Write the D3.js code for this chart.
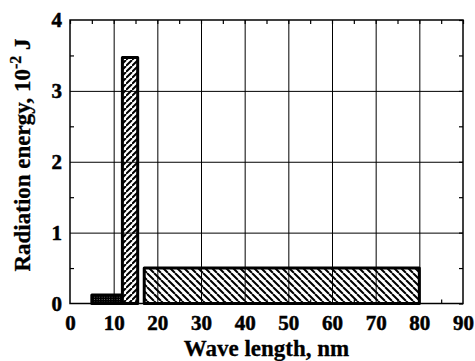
<!DOCTYPE html>
<html>
<head>
<meta charset="utf-8">
<script src="https://cdn.jsdelivr.net/npm/d3@7"></script>
<style>
  body { margin: 0; background: #fff; }
</style>
</head>
<body>
<div id="chart"></div>
<script>
// bars: wavelength band [start, end] in nm and energy in 10^-2 J
var bandStart = [5, 12, 17];
var bandEnd = [13.5, 15.5, 80];
var bandEnergy = [0.12, 3.47, 0.5];
var bandHatch = ["dense", "fwd", "back"];

var xTicks = [0, 10, 20, 30, 40, 50, 60, 70, 80, 90];
var xMinor = [5, 15, 25, 35, 45, 55, 65, 75, 85];
var yTicks = [0, 1, 2, 3, 4];
var yMinor = [0.5, 1.5, 2.5, 3.5];

var width = 475, height = 361;
var margin = {top: 20, right: 12, bottom: 57.5, left: 70};
var serif = "'Liberation Serif', 'Times New Roman', serif";

var x = d3.scaleLinear().domain([0, 90]).range([margin.left, width - margin.right]);
var y = d3.scaleLinear().domain([0, 4]).range([height - margin.bottom, margin.top]);

var svg = d3.select("#chart").append("svg")
  .attr("width", width)
  .attr("height", height);

// hatch patterns
var defs = svg.append("defs");
function hatch(id, size, sw, dir) {
  var p = defs.append("pattern")
    .attr("id", id)
    .attr("width", size)
    .attr("height", size)
    .attr("patternUnits", "userSpaceOnUse");
  p.append("rect").attr("width", size).attr("height", size).attr("fill", "#fff");
  var d = dir > 0
    ? "M0," + size + "L" + size + ",0M" + (-size) + "," + size + "L0,0M" + size + "," + (2 * size) + "L" + (2 * size) + "," + size
    : "M0,0L" + size + "," + size + "M" + (-size) + ",0L0," + size + "M" + size + ",0L" + (2 * size) + "," + size;
  p.append("path").attr("d", d).attr("stroke", "#000").attr("stroke-width", sw);
}
hatch("fwd", 6, 2, 1);
hatch("back", 7, 2, -1);
hatch("dense", 2.5, 2.4, 1);

var plotW = x.range()[1] - x.range()[0];
var plotH = y.range()[0] - y.range()[1];

// bars
svg.append("g").selectAll("rect")
  .data(bandEnergy)
  .enter()
  .append("rect")
  .attr("x", function(d, i) { return x(bandStart[i]); })
  .attr("y", function(d) { return y(d); })
  .attr("width", function(d, i) { return x(bandEnd[i]) - x(bandStart[i]); })
  .attr("height", function(d) { return y(0) - y(d); })
  .attr("fill", function(d, i) { return "url(#" + bandHatch[i] + ")"; })
  .attr("stroke", "#000")
  .attr("stroke-width", 3)
  .attr("stroke-linejoin", "round");

// gridlines
svg.append("g")
  .attr("transform", "translate(0," + y(0) + ")")
  .call(d3.axisBottom(x).tickValues(xTicks.slice(1, -1)).tickSize(-plotH).tickFormat(""))
  .call(function(g) { g.select(".domain").remove(); g.selectAll("line").attr("stroke", "#000").attr("stroke-width", 1); });

svg.append("g")
  .attr("transform", "translate(" + x(0) + ",0)")
  .call(d3.axisLeft(y).tickValues(yTicks.slice(1, -1)).tickSize(-plotW).tickFormat(""))
  .call(function(g) { g.select(".domain").remove(); g.selectAll("line").attr("stroke", "#000").attr("stroke-width", 1); });

// minor ticks on all four sides
function minor(axis, tr, vals) {
  svg.append("g")
    .attr("transform", tr)
    .call(axis.tickValues(vals).tickSize(-4).tickFormat(""))
    .call(function(g) { g.select(".domain").remove(); g.selectAll("line").attr("stroke", "#000").attr("stroke-width", 1.2); });
}
minor(d3.axisBottom(x), "translate(0," + y(0) + ")", xMinor);
minor(d3.axisTop(x), "translate(0," + y(4) + ")", xMinor);
minor(d3.axisLeft(y), "translate(" + x(0) + ",0)", yMinor);
minor(d3.axisRight(y), "translate(" + x(90) + ",0)", yMinor);
minor(d3.axisTop(x), "translate(0," + y(4) + ")", xTicks);
minor(d3.axisRight(y), "translate(" + x(90) + ",0)", yTicks);

// frame
svg.append("rect")
  .attr("x", x(0)).attr("y", y(4))
  .attr("width", plotW).attr("height", plotH)
  .attr("fill", "none").attr("stroke", "#000").attr("stroke-width", 1.5);

function label(g) {
  g.select(".domain").remove();
  g.selectAll("text")
    .attr("fill", "#000")
    .attr("stroke", "#000")
    .attr("stroke-width", 0.5)
    .style("font-family", serif)
    .style("font-weight", "bold")
    .style("font-size", "21px");
}

// tick labels
svg.append("g")
  .attr("transform", "translate(0," + y(0) + ")")
  .call(d3.axisBottom(x).tickValues(xTicks).tickSize(0).tickPadding(12).tickFormat(d3.format("d")))
  .call(label);

svg.append("g")
  .attr("transform", "translate(" + x(0) + ",0)")
  .call(d3.axisLeft(y).tickValues(yTicks).tickSize(0).tickPadding(8).tickFormat(d3.format("d")))
  .call(label);

// axis titles
svg.append("text")
  .attr("x", (x(0) + x(90)) / 2)
  .attr("y", 356)
  .attr("text-anchor", "middle")
  .attr("stroke", "#000")
  .attr("stroke-width", 0.3)
  .style("font-family", serif)
  .style("font-weight", "bold")
  .style("font-size", "23px")
  .text("Wave length, nm");

var yt = svg.append("text")
  .attr("transform", "translate(30,155) rotate(-90)")
  .attr("text-anchor", "middle")
  .attr("stroke", "#000")
  .attr("stroke-width", 0.3)
  .style("font-family", serif)
  .style("font-weight", "bold")
  .style("font-size", "23px");
yt.append("tspan").text("Radiation energy, 10");
yt.append("tspan").style("font-size", "16px").attr("dy", -9).text("-2");
yt.append("tspan").attr("dy", 9).text(" J");
</script>
</body>
</html>
